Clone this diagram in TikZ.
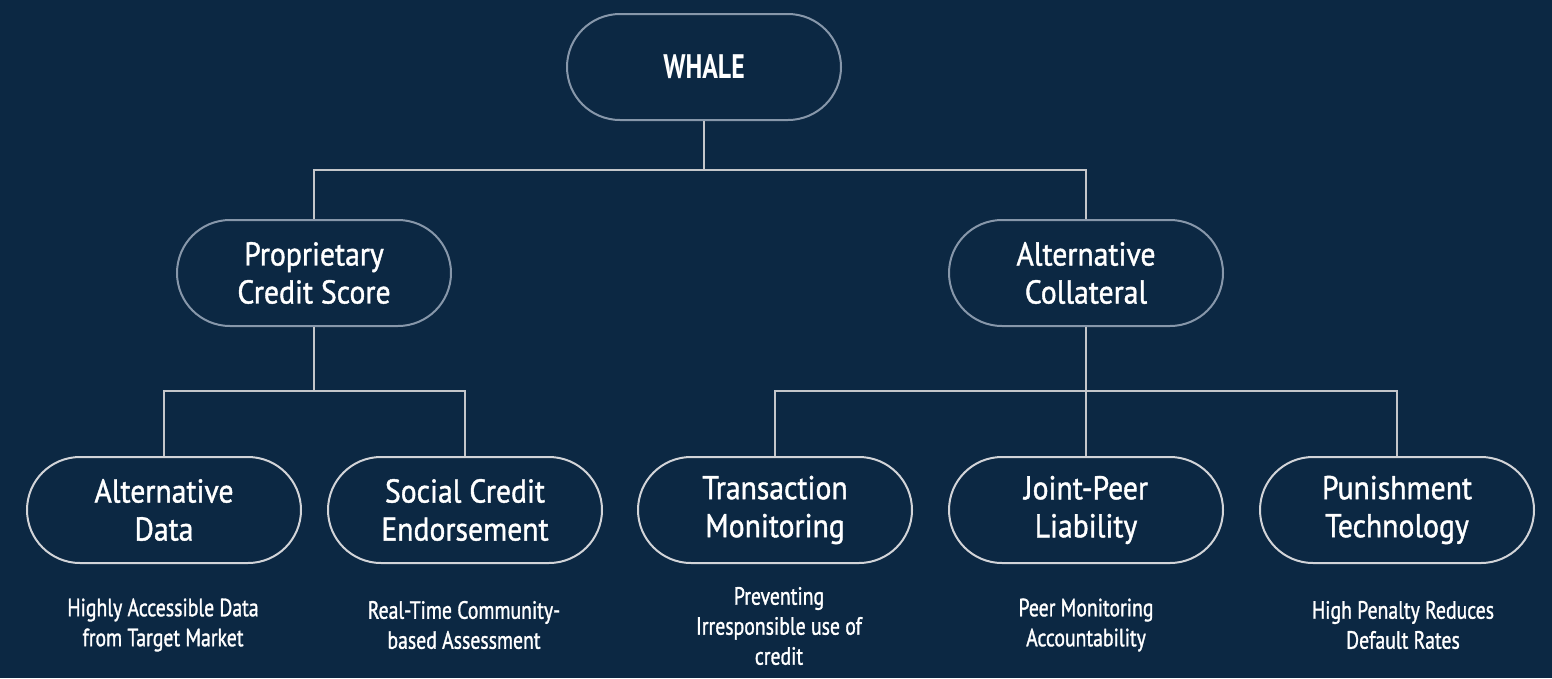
\documentclass[tikz,border=0pt]{standalone}
\usepackage{fontspec}
\setmainfont{PT Sans}[FakeStretch=0.9, FakeBold=1.2]
\newfontfamily\descfont{PT Sans}[FakeStretch=0.79, FakeBold=1.2]
\newfontfamily\titlefont{PT Sans Bold}[FakeStretch=0.76]
\begin{document}
\begin{tikzpicture}[x=1pt,y=-1pt,
  pill/.style={draw=#1, line width=2pt, rounded corners=53pt,
    minimum width=274pt, minimum height=106pt, inner sep=0pt,
    text=white, align=center, font=\fontsize{33}{38}\selectfont},
  pill/.default={pillgrey},
  desc/.style={text=white, align=center, font=\descfont\fontsize{25}{30}\selectfont},
  link/.style={draw=linkgrey, line width=2.4pt}]
\definecolor{bg}{HTML}{0C2843}
\definecolor{pillblue}{HTML}{8797AA}
\definecolor{pillgrey}{HTML}{D2D4D8}
\definecolor{linkgrey}{HTML}{C4C6CA}
\fill[bg] (0,0) rectangle (1552,678);
\useasboundingbox (0,0) rectangle (1552,678);

% top level
\node[pill=pillblue, font=\titlefont\fontsize{34}{38}\selectfont] (whale) at (704,67) {WHALE};

% second level
\node[pill=pillblue] (pcs) at (314,273) {Proprietary\\Credit Score};
\node[pill=pillblue] (ac) at (1086,273) {Alternative\\Collateral};

% third level
\node[pill] (ad) at (164,510) {Alternative\\Data};
\node[pill] (sce) at (465,510) {Social Credit\\Endorsement};
\node[pill] (tm) at (775,510) {Transaction\\Monitoring};
\node[pill] (jpl) at (1086,510) {Joint-Peer\\Liability};
\node[pill] (pt) at (1397,510) {Punishment\\Technology};

% descriptions
\node[desc] (dad) at (163,625) {Highly Accessible Data\\from Target Market};
\node[desc] (dsce) at (464,625) {Real-Time Community-\\based Assessment};
\node[desc] (dtm) at (779,626) {Preventing\\Irresponsible use of\\credit};
\node[desc] (djpl) at (1086,625) {Peer Monitoring\\Accountability};
\node[desc] (dpt) at (1403,625) {High Penalty Reduces\\Default Rates};

% connectors
\coordinate (b1) at (704,170);
\coordinate (b2) at (314,391);
\coordinate (b3) at (1086,391);
\draw[link] (whale.south) -- (b1);
\draw[link] (pcs.north) |- (b1) -| (ac.north);
\draw[link] (pcs.south) -- (b2);
\draw[link] (ad.north) |- (b2) -| (sce.north);
\draw[link] (ac.south) -- (jpl.north);
\draw[link] (tm.north) |- (b3) -| (pt.north);
\end{tikzpicture}
\end{document}
